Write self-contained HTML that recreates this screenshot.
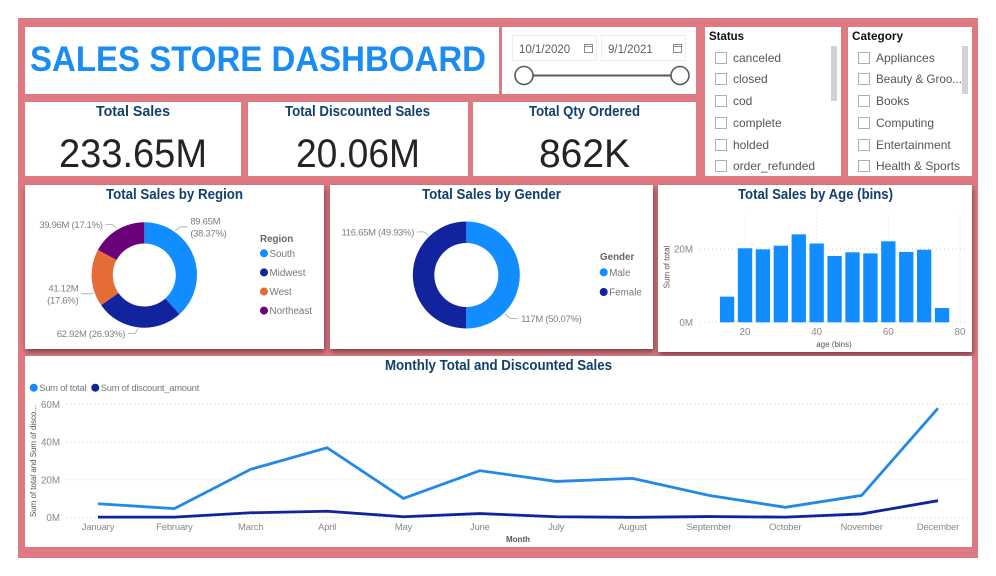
<!DOCTYPE html>
<html lang="en">
<head>
<meta charset="utf-8">
<title>Sales Store Dashboard</title>
<style>
html,body{margin:0;padding:0;background:#fff;}
body{width:996px;height:576px;overflow:hidden;}
svg{display:block;}
text{font-family:"Liberation Sans",sans-serif;}
.pt{font-weight:700;fill:#123f6d;font-size:15px;}
.kv{fill:#252423;font-size:40px;}
.sl{fill:#555;font-size:12px;}
.sh{fill:#111;font-size:12px;font-weight:700;}
.cb{fill:#fff;stroke:#b0b0b0;stroke-width:1;}
.sb{fill:#d2d2d2;}
.dt{fill:#605e5c;font-size:11.5px;}
.lab{fill:#7f7f7f;font-size:9.5px;letter-spacing:-.3px;}
.lg{fill:#777;font-size:9.8px;}
.lgs{fill:#777;font-size:9.4px;letter-spacing:-.25px;}
.lgt{fill:#666;font-size:9.8px;font-weight:700;}
.tick{fill:#888;font-size:9.8px;}
.axt{fill:#555;font-size:8px;}
.axb{fill:#555;font-size:8px;font-weight:700;}
.shadow{filter:drop-shadow(1px 3px 3px rgba(80,30,40,.7));}
</style>
</head>
<body>
<svg id="dash" width="996" height="576" viewBox="0 0 996 576">
  <rect x="18" y="18" width="960" height="540" fill="#df7a82"/>

  <rect x="25" y="27" width="474" height="67" fill="#fff"/>
  <text x="30" y="71" font-size="35.5" font-weight="700" fill="#1a8cf2" textLength="456" lengthAdjust="spacingAndGlyphs">SALES STORE DASHBOARD</text>

  <rect x="502" y="27" width="194" height="67" fill="#fff"/>
  <rect x="512.5" y="35.5" width="84" height="25" fill="#fff" stroke="#ececec"/>
  <text x="519" y="53" class="dt">10/1/2020</text>
  <g fill="none" stroke="#8a8a8a" stroke-width="1">
    <rect x="584.5" y="44.5" width="8" height="8"/><line x1="584.5" y1="46.5" x2="592.5" y2="46.5"/>
  </g>
  <rect x="601.5" y="35.5" width="84" height="25" fill="#fff" stroke="#ececec"/>
  <text x="608" y="53" class="dt">9/1/2021</text>
  <g fill="none" stroke="#8a8a8a" stroke-width="1">
    <rect x="673.5" y="44.5" width="8" height="8"/><line x1="673.5" y1="46.5" x2="681.5" y2="46.5"/>
  </g>
  <line x1="524" y1="75.5" x2="680" y2="75.5" stroke="#5a5a5a" stroke-width="2"/>
  <circle cx="524" cy="75.5" r="9" fill="#fff" stroke="#5a5a5a" stroke-width="1.6"/>
  <circle cx="680" cy="75.5" r="9" fill="#fff" stroke="#5a5a5a" stroke-width="1.6"/>

  <rect x="705" y="27" width="136" height="149" fill="#fff"/>
  <text x="709" y="40" class="sh" textLength="35" lengthAdjust="spacingAndGlyphs">Status</text>
  <rect x="831" y="46" width="6" height="55" class="sb"/>
  <rect x="715.5" y="52.5" width="11" height="11" class="cb"/>
  <text x="733" y="62" class="sl">canceled</text>
  <rect x="715.5" y="73.5" width="11" height="11" class="cb"/>
  <text x="733" y="83" class="sl">closed</text>
  <rect x="715.5" y="95.5" width="11" height="11" class="cb"/>
  <text x="733" y="105" class="sl">cod</text>
  <rect x="715.5" y="117.5" width="11" height="11" class="cb"/>
  <text x="733" y="127" class="sl">complete</text>
  <rect x="715.5" y="139.5" width="11" height="11" class="cb"/>
  <text x="733" y="149" class="sl">holded</text>
  <rect x="715.5" y="160.5" width="11" height="11" class="cb"/>
  <text x="733" y="170" class="sl">order_refunded</text>

  <rect x="848" y="27" width="124" height="149" fill="#fff"/>
  <text x="852" y="40" class="sh" textLength="51" lengthAdjust="spacingAndGlyphs">Category</text>
  <rect x="962" y="46" width="6" height="48" class="sb"/>
  <rect x="858.5" y="52.5" width="11" height="11" class="cb"/>
  <text x="876" y="62" class="sl">Appliances</text>
  <rect x="858.5" y="73.5" width="11" height="11" class="cb"/>
  <text x="876" y="83" class="sl" textLength="86" lengthAdjust="spacingAndGlyphs">Beauty &amp; Groo...</text>
  <rect x="858.5" y="95.5" width="11" height="11" class="cb"/>
  <text x="876" y="105" class="sl">Books</text>
  <rect x="858.5" y="117.5" width="11" height="11" class="cb"/>
  <text x="876" y="127" class="sl">Computing</text>
  <rect x="858.5" y="139.5" width="11" height="11" class="cb"/>
  <text x="876" y="149" class="sl">Entertainment</text>
  <rect x="858.5" y="160.5" width="11" height="11" class="cb"/>
  <text x="876" y="170" class="sl">Health &amp; Sports</text>

  <rect x="25" y="102" width="216" height="74" fill="#fff"/>
  <text x="96" y="116" class="pt" textLength="74" lengthAdjust="spacingAndGlyphs">Total Sales</text>
  <text x="59" y="167" class="kv" textLength="148" lengthAdjust="spacingAndGlyphs">233.65M</text>
  <rect x="248" y="102" width="220" height="74" fill="#fff"/>
  <text x="285" y="116" class="pt" textLength="145" lengthAdjust="spacingAndGlyphs">Total Discounted Sales</text>
  <text x="296" y="167" class="kv" textLength="124" lengthAdjust="spacingAndGlyphs">20.06M</text>
  <rect x="473" y="102" width="223" height="74" fill="#fff"/>
  <text x="529" y="116" class="pt" textLength="111" lengthAdjust="spacingAndGlyphs">Total Qty Ordered</text>
  <text x="539" y="167" class="kv" textLength="91" lengthAdjust="spacingAndGlyphs">862K</text>

  <rect class="shadow" x="25" y="185" width="299" height="164" fill="#fff"/>
  <rect class="shadow" x="330" y="185" width="323" height="164" fill="#fff"/>
  <rect class="shadow" x="658" y="185" width="314" height="167" fill="#fff"/>
  <rect x="25" y="356" width="947" height="191" fill="#fff"/>

  <text x="106" y="199" class="pt" textLength="137" lengthAdjust="spacingAndGlyphs">Total Sales by Region</text>
  <text x="422" y="199" class="pt" textLength="139" lengthAdjust="spacingAndGlyphs">Total Sales by Gender</text>
  <text x="738" y="199" class="pt" textLength="155" lengthAdjust="spacingAndGlyphs">Total Sales by Age (bins)</text>
  <text x="385" y="370" class="pt" textLength="227" lengthAdjust="spacingAndGlyphs">Monthly Total and Discounted Sales</text>

  <text x="260" y="242" class="lgt">Region</text>
  <text x="600" y="260" class="lgt">Gender</text>

  <text x="834" y="347" text-anchor="middle" class="axb" style="font-weight:400">age (bins)</text>
  <text transform="translate(669.5,267) rotate(-90)" text-anchor="middle" class="axt">Sum of total</text>
  <text x="518" y="542" text-anchor="middle" class="axb">Month</text>
  <text transform="translate(36,461) rotate(-90)" text-anchor="middle" class="axt" textLength="112" lengthAdjust="spacingAndGlyphs">Sum of total and Sum of disco...</text>

  <g id="region-chart"></g>
  <g id="gender-chart"></g>
  <g id="age-chart"></g>
  <g id="monthly-chart"></g>
</svg>

<script>
const regionNames = ['South', 'Midwest', 'West', 'Northeast'];
const regionValues = [89.65, 62.92, 41.12, 39.96];
const genderNames = ['Male', 'Female'];
const genderValues = [117, 116.65];

const ageBins = [15, 20, 25, 30, 35, 40, 45, 50, 55, 60, 65, 70, 75];
const ageTotals = [7.0, 20.2, 19.9, 20.9, 24.0, 21.5, 18.1, 19.1, 18.8, 22.1, 19.2, 19.8, 3.9];
const ageXTicks = [20, 40, 60, 80];
const ageYTicks = [0, 20];

const months = ['January', 'February', 'March', 'April', 'May', 'June', 'July', 'August', 'September', 'October', 'November', 'December'];
const monthlyTotal = [7.4, 4.8, 25.6, 37.0, 10.2, 24.9, 19.2, 20.8, 11.8, 5.5, 11.8, 57.9];
const monthlyDiscount = [0.3, 0.3, 2.6, 3.4, 0.5, 2.2, 0.5, 0.2, 0.6, 0.3, 2.0, 9.0];
const monthlyYTicks = [0, 20, 40, 60];

const BLUE = '#118DFF';
const NAVY = '#12239E';
const ORANGE = '#E66C37';
const PURPLE = '#6B007B';
const NS = 'http://www.w3.org/2000/svg';

function mk(tag, parent) {
  const el = document.createElementNS(NS, tag);
  parent.appendChild(el);
  return el;
}
function polar(cx, cy, r, deg) {
  const a = deg * Math.PI / 180;
  return [cx + r * Math.sin(a), cy - r * Math.cos(a)];
}
function fmtNum(v) {
  return String(parseFloat(v.toFixed(2)));
}

/* ---------- donuts ---------- */
function donutAngles(values) {
  const sum = values.reduce(function (a, b) { return a + b; }, 0);
  let acc = 0;
  return values.map(function (v) {
    const start = acc / sum * 360;
    acc += v;
    return { start: start, end: acc / sum * 360, mid: (start + acc / sum * 360) / 2, pct: v / sum * 100, value: v };
  });
}
function drawSlices(parent, values, colors, cx, cy, ro, ri) {
  donutAngles(values).forEach(function (s, i) {
    const p1 = polar(cx, cy, ro, s.start);
    const p2 = polar(cx, cy, ro, s.end);
    const p3 = polar(cx, cy, ri, s.end);
    const p4 = polar(cx, cy, ri, s.start);
    const large = s.end - s.start > 180 ? 1 : 0;
    const path = mk('path', parent);
    
    
    path.setAttribute('fill', colors[i]);
    path.setAttribute('d', 'M' + p1 + 'A' + ro + ' ' + ro + ' 0 ' + large + ' 1 ' + p2 + 'L' + p3 + 'A' + ri + ' ' + ri + ' 0 ' + large + ' 0 ' + p4 + 'Z');
  });
}
function sliceLabel(parent, values, i, cx, cy, r, nudge, ex, ey, tail, twoLines) {
  const s = donutAngles(values)[i];
  const p = polar(cx, cy, r, s.mid + nudge);
  const bx = p[0] + ex;
  const by = p[1] + ey;
  const endX = bx + tail;
  const leader = mk('polyline', parent);
  
  
  leader.setAttribute('fill', 'none');
  leader.setAttribute('stroke', '#a8a8a8');
  leader.setAttribute('stroke-width', '0.8');
  leader.setAttribute('points', p[0] + ',' + p[1] + ' ' + bx + ',' + by + ' ' + endX + ',' + by);
  const dir = tail > 0 ? 1 : -1;
  const anchor = tail > 0 ? 'start' : 'end';
  const a = fmtNum(s.value) + 'M';
  const b = '(' + fmtNum(s.pct) + '%)';
  const lines = twoLines ? [a, b] : [a + ' ' + b];
  lines.forEach(function (line, k) {
    const t = mk('text', parent);
    
    
    t.setAttribute('class', 'lab');
    t.setAttribute('text-anchor', anchor);
    t.setAttribute('x', endX + dir * 3);
    t.setAttribute('y', by + 3.5 + (lines.length === 2 ? (k === 0 ? -6 : 6) : 0));
    t.textContent = line;
  });
}
function legendEntry(parent, name, color, x, y, cls) {
  const dot = mk('circle', parent);
  
  
  dot.setAttribute('cx', x);
  dot.setAttribute('cy', y);
  dot.setAttribute('r', 4);
  dot.setAttribute('fill', color);
  const t = mk('text', parent);
  
  
  t.setAttribute('class', cls);
  t.setAttribute('x', x + 5.5);
  t.setAttribute('y', y + 3.5);
  t.textContent = name;
}

const regionG = document.getElementById('region-chart');
const regionColors = [BLUE, NAVY, ORANGE, PURPLE];
drawSlices(regionG, regionValues, regionColors, 144.3, 275, 52.7, 31.5);
sliceLabel(regionG, regionValues, 0, 144.3, 275, 54, -34, 5, -4, 7, true);
sliceLabel(regionG, regionValues, 1, 144.3, 275, 54, 0, -3, 5, -7, false);
sliceLabel(regionG, regionValues, 2, 144.3, 275, 54, -16, -3, 1, -9, true);
sliceLabel(regionG, regionValues, 3, 144.3, 275, 54, 0, -4, -4, -7, false);
regionNames.forEach(function (n, i) {
  legendEntry(regionG, n, regionColors[i], 264, 253.3 + i * 19.1, 'lg');
});

const genderG = document.getElementById('gender-chart');
const genderColors = [BLUE, NAVY];
drawSlices(genderG, genderValues, genderColors, 466.3, 275, 53.5, 32);
sliceLabel(genderG, genderValues, 0, 466.3, 275, 55, 45, 5, 4.5, 8, false);
sliceLabel(genderG, genderValues, 1, 466.3, 275, 55, 46, -4, -3.5, -7, false);
genderNames.forEach(function (n, i) {
  legendEntry(genderG, n, genderColors[i], 603.7, 272.3 + i * 19.7, 'lg');
});

/* ---------- age bars ---------- */
function ageX(a) { return 745 + (a - 20) * 3.583; }
function ageY(v) { return 322.3 - v * 3.665; }
const ageG = document.getElementById('age-chart');
ageXTicks.forEach(function (tk) {
  const g = mk('line', ageG);
  
  
  g.setAttribute('x1', ageX(tk));
  g.setAttribute('x2', ageX(tk));
  g.setAttribute('y1', 213);
  g.setAttribute('y2', ageY(0));
  g.setAttribute('stroke', '#dcdcdc');
  g.setAttribute('stroke-dasharray', '1 3');
  const t = mk('text', ageG);
  
  
  t.setAttribute('class', 'tick');
  t.setAttribute('text-anchor', 'middle');
  t.setAttribute('x', ageX(tk));
  t.setAttribute('y', 335);
  t.textContent = tk;
});
ageYTicks.forEach(function (tk) {
  const g = mk('line', ageG);
  
  
  g.setAttribute('x1', 700);
  g.setAttribute('x2', 967);
  g.setAttribute('y1', ageY(tk));
  g.setAttribute('y2', ageY(tk));
  g.setAttribute('stroke', '#d0d0d0');
  g.setAttribute('stroke-dasharray', '1 3');
  const t = mk('text', ageG);
  
  
  t.setAttribute('class', 'tick');
  t.setAttribute('text-anchor', 'end');
  t.setAttribute('x', 693);
  t.setAttribute('y', ageY(tk) + 3.5);
  t.textContent = tk + 'M';
});
ageBins.forEach(function (a, i) {
  const w = 5 * 3.583 * 0.8;
  const bar = mk('rect', ageG);
  
  
  bar.setAttribute('x', ageX(a) - w / 2);
  bar.setAttribute('width', w);
  bar.setAttribute('y', ageY(ageTotals[i]));
  bar.setAttribute('height', ageY(0) - ageY(ageTotals[i]));
  bar.setAttribute('fill', BLUE);
});

/* ---------- monthly lines ---------- */
function monthX(i) { return 98 + i * 76.36; }
function salesY(v) { return 517.7 - v * 1.89; }
const monthlyG = document.getElementById('monthly-chart');
monthlyYTicks.forEach(function (tk) {
  const g = mk('line', monthlyG);
  
  
  g.setAttribute('x1', 67);
  g.setAttribute('x2', 969);
  g.setAttribute('y1', salesY(tk));
  g.setAttribute('y2', salesY(tk));
  g.setAttribute('stroke', '#d4d4d4');
  g.setAttribute('stroke-dasharray', '1 3');
  const t = mk('text', monthlyG);
  
  
  t.setAttribute('class', 'tick');
  t.setAttribute('text-anchor', 'end');
  t.setAttribute('x', 60);
  t.setAttribute('y', salesY(tk) + 3.5);
  t.textContent = tk + 'M';
});
months.forEach(function (m, i) {
  const t = mk('text', monthlyG);
  
  
  t.setAttribute('class', 'tick');
  t.setAttribute('style', 'font-size:9.5px;letter-spacing:-.2px');
  t.setAttribute('text-anchor', 'middle');
  t.setAttribute('x', monthX(i));
  t.setAttribute('y', 530);
  t.textContent = m;
});
const totalLine = mk('polyline', monthlyG);


totalLine.setAttribute('fill', 'none');
totalLine.setAttribute('stroke', '#2289e6');
totalLine.setAttribute('stroke-width', '2.8');
totalLine.setAttribute('points', monthlyTotal.map(function (v, i) { return monthX(i) + ',' + salesY(v); }).join(' '));
const discountLine = mk('polyline', monthlyG);


discountLine.setAttribute('fill', 'none');
discountLine.setAttribute('stroke', NAVY);
discountLine.setAttribute('stroke-width', '2.8');
discountLine.setAttribute('points', monthlyDiscount.map(function (v, i) { return monthX(i) + ',' + salesY(v); }).join(' '));
legendEntry(monthlyG, 'Sum of total', BLUE, 33.7, 387.7, 'lgs');
legendEntry(monthlyG, 'Sum of discount_amount', NAVY, 95.3, 387.7, 'lgs');
</script>
</body>
</html>
